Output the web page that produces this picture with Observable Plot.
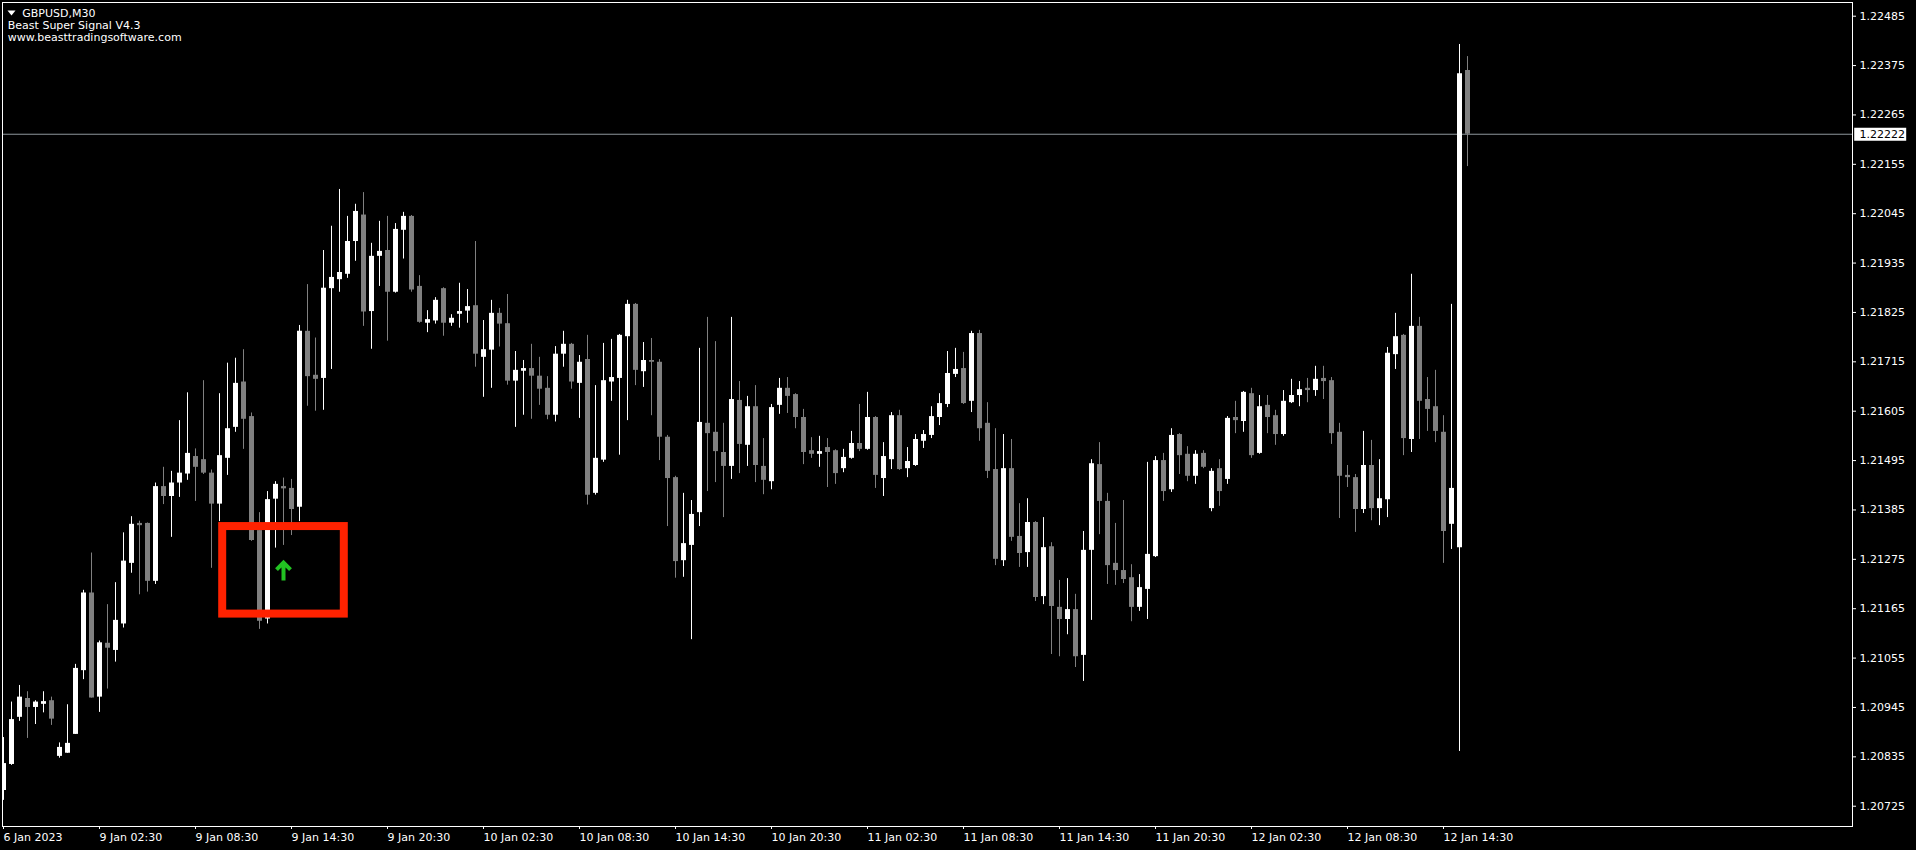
<!DOCTYPE html>
<html><head><meta charset="utf-8">
<script src="https://cdn.jsdelivr.net/npm/d3@7"></script>
<script src="https://cdn.jsdelivr.net/npm/@observablehq/plot@0.6"></script>
<style>html,body{margin:0;padding:0;background:#000;overflow:hidden}</style>
</head><body><div id="chart"></div>
<script>
// GBPUSD M30 bars, oldest first (one entry per bar)
const opens = [1.20760,1.20818,1.20923,1.20965,1.20945,1.20952,1.20960,1.20836,1.20843,1.20885,1.21027,1.21200,1.20968,1.21088,1.21072,1.21131,1.21266,1.21355,1.21355,1.21226,1.21437,1.21415,1.21445,1.21465,1.21504,1.21497,1.21467,1.21398,1.21500,1.21569,1.21670,1.21593,1.21339,1.21142,1.21409,1.21437,1.21433,1.21391,1.21783,1.21685,1.21678,1.21878,1.21898,1.21910,1.21983,1.22042,1.21827,1.21950,1.21963,1.21870,1.22008,1.22039,1.21883,1.21801,1.21806,1.21878,1.21801,1.21821,1.21828,1.21840,1.21725,1.21741,1.21823,1.21800,1.21672,1.21694,1.21700,1.21683,1.21656,1.21596,1.21732,1.21754,1.21667,1.21720,1.21422,1.21496,1.21670,1.21678,1.21771,1.21843,1.21693,1.21718,1.21714,1.21547,1.21457,1.21272,1.21306,1.21379,1.21578,1.21558,1.21513,1.21482,1.21629,1.21529,1.21615,1.21482,1.21448,1.21618,1.21656,1.21642,1.21591,1.21517,1.21509,1.21524,1.21517,1.21477,1.21500,1.21533,1.21520,1.21591,1.21455,1.21497,1.21595,1.21477,1.21484,1.21538,1.21551,1.21591,1.21620,1.21687,1.21700,1.21627,1.21778,1.21578,1.21475,1.21272,1.21477,1.21326,1.21290,1.21357,1.21192,1.21303,1.21168,1.21141,1.21163,1.21061,1.21295,1.21486,1.21404,1.21266,1.21250,1.21234,1.21168,1.21208,1.21281,1.21495,1.21430,1.21553,1.21509,1.21460,1.21511,1.21388,1.21477,1.21453,1.21591,1.21582,1.21644,1.21511,1.21618,1.21595,1.21553,1.21624,1.21640,1.21656,1.21651,1.21678,1.21673,1.21558,1.21462,1.21457,1.21386,1.21484,1.21388,1.21408,1.21731,1.21774,1.21542,1.21794,1.21631,1.21615,1.21558,1.21353,1.21301,1.22364];
const highs = [1.20878,1.20957,1.20994,1.20980,1.20960,1.20980,1.20968,1.20866,1.20951,1.21041,1.21206,1.21289,1.21093,1.21174,1.21223,1.21334,1.21370,1.21360,1.21356,1.21445,1.21480,1.21471,1.21584,1.21646,1.21521,1.21673,1.21474,1.21644,1.21712,1.21723,1.21742,1.21601,1.21379,1.21426,1.21448,1.21456,1.21453,1.21796,1.21887,1.21768,1.21963,1.22017,1.22099,1.22039,1.22066,1.22092,1.21979,1.22028,1.22039,1.22023,1.22048,1.22041,1.21907,1.21829,1.21858,1.21880,1.21820,1.21890,1.21876,1.21983,1.21807,1.21852,1.21834,1.21865,1.21738,1.21718,1.21754,1.21725,1.21682,1.21749,1.21783,1.21756,1.21729,1.21774,1.21662,1.21756,1.21765,1.21776,1.21852,1.21845,1.21758,1.21767,1.21720,1.21551,1.21460,1.21422,1.21406,1.21745,1.21814,1.21760,1.21578,1.21814,1.21671,1.21638,1.21662,1.21544,1.21620,1.21678,1.21680,1.21644,1.21609,1.21546,1.21549,1.21544,1.21519,1.21520,1.21560,1.21620,1.21647,1.21593,1.21535,1.21602,1.21607,1.21524,1.21553,1.21562,1.21615,1.21644,1.21738,1.21745,1.21736,1.21783,1.21785,1.21624,1.21566,1.21553,1.21542,1.21399,1.21410,1.21359,1.21368,1.21312,1.21228,1.21232,1.21197,1.21337,1.21497,1.21535,1.21422,1.21355,1.21406,1.21263,1.21241,1.21491,1.21504,1.21511,1.21566,1.21555,1.21526,1.21517,1.21517,1.21477,1.21497,1.21593,1.21627,1.21649,1.21656,1.21640,1.21640,1.21607,1.21651,1.21676,1.21671,1.21678,1.21705,1.21705,1.21680,1.21578,1.21484,1.21464,1.21560,1.21540,1.21497,1.21747,1.21823,1.21776,1.21910,1.21814,1.21680,1.21696,1.21595,1.21843,1.22422,1.22395];
const lows = [1.20738,1.20816,1.20914,1.20876,1.20907,1.20933,1.20905,1.20832,1.20843,1.20885,1.21007,1.20966,1.20934,1.20986,1.21046,1.21122,1.21244,1.21196,1.21202,1.21219,1.21397,1.21324,1.21413,1.21451,1.21404,1.21464,1.21255,1.21359,1.21462,1.21558,1.21520,1.21315,1.21119,1.21131,1.21300,1.21306,1.21328,1.21359,1.21616,1.21605,1.21607,1.21698,1.21870,1.21901,1.21939,1.21794,1.21743,1.21883,1.21761,1.21868,1.21944,1.21870,1.21801,1.21780,1.21799,1.21772,1.21794,1.21790,1.21801,1.21703,1.21636,1.21656,1.21748,1.21663,1.21569,1.21596,1.21587,1.21618,1.21586,1.21581,1.21703,1.21654,1.21589,1.21396,1.21418,1.21491,1.21627,1.21507,1.21584,1.21662,1.21658,1.21595,1.21495,1.21348,1.21233,1.21235,1.21096,1.21348,1.21426,1.21446,1.21368,1.21453,1.21466,1.21482,1.21446,1.21419,1.21430,1.21598,1.21600,1.21566,1.21486,1.21500,1.21480,1.21435,1.21442,1.21468,1.21498,1.21515,1.21518,1.21433,1.21415,1.21475,1.21473,1.21457,1.21482,1.21522,1.21544,1.21573,1.21613,1.21680,1.21620,1.21602,1.21538,1.21455,1.21261,1.21259,1.21315,1.21257,1.21257,1.21181,1.21174,1.21063,1.21058,1.21107,1.21034,1.21003,1.21139,1.21330,1.21219,1.21217,1.21221,1.21136,1.21159,1.21141,1.21279,1.21404,1.21424,1.21464,1.21448,1.21442,1.21477,1.21381,1.21393,1.21442,1.21555,1.21558,1.21500,1.21509,1.21555,1.21529,1.21549,1.21622,1.21615,1.21624,1.21638,1.21631,1.21531,1.21366,1.21435,1.21335,1.21377,1.21361,1.21350,1.21368,1.21698,1.21506,1.21513,1.21542,1.21560,1.21535,1.21266,1.21297,1.20847,1.22150];
const closes = [1.20820,1.20918,1.20968,1.20945,1.20957,1.20958,1.20919,1.20856,1.20865,1.21032,1.21200,1.20966,1.21089,1.21077,1.21139,1.21271,1.21353,1.21350,1.21226,1.21437,1.21415,1.21445,1.21467,1.21511,1.21480,1.21467,1.21398,1.21506,1.21566,1.21667,1.21587,1.21317,1.21137,1.21408,1.21442,1.21432,1.21386,1.21783,1.21682,1.21676,1.21879,1.21903,1.21914,1.21983,1.22050,1.21826,1.21950,1.21961,1.21870,1.22010,1.22039,1.21875,1.21803,1.21809,1.21852,1.21801,1.21812,1.21827,1.21838,1.21732,1.21742,1.21823,1.21799,1.21672,1.21696,1.21700,1.21683,1.21654,1.21596,1.21732,1.21754,1.21670,1.21714,1.21418,1.21500,1.21673,1.21680,1.21774,1.21843,1.21696,1.21718,1.21714,1.21547,1.21455,1.21270,1.21310,1.21375,1.21580,1.21555,1.21515,1.21482,1.21631,1.21531,1.21615,1.21484,1.21451,1.21613,1.21656,1.21638,1.21591,1.21513,1.21509,1.21515,1.21513,1.21466,1.21502,1.21533,1.21520,1.21591,1.21462,1.21504,1.21595,1.21475,1.21493,1.21542,1.21553,1.21593,1.21622,1.21689,1.21698,1.21622,1.21778,1.21566,1.21471,1.21275,1.21477,1.21324,1.21288,1.21357,1.21190,1.21301,1.21170,1.21141,1.21163,1.21058,1.21295,1.21488,1.21404,1.21261,1.21250,1.21230,1.21168,1.21212,1.21286,1.21495,1.21426,1.21551,1.21506,1.21460,1.21509,1.21480,1.21471,1.21426,1.21589,1.21584,1.21647,1.21506,1.21615,1.21591,1.21553,1.21627,1.21640,1.21653,1.21651,1.21676,1.21671,1.21555,1.21460,1.21457,1.21386,1.21484,1.21388,1.21410,1.21734,1.21771,1.21544,1.21794,1.21627,1.21609,1.21560,1.21337,1.21433,1.22357,1.22222];

// time-axis labels (every 12 bars) and price-axis labels
const timeTickBars = [0,12,24,36,48,60,72,84,96,108,120,132,144,156,168,180];
const timeLabels = ["6 Jan 2023","9 Jan 02:30","9 Jan 08:30","9 Jan 14:30","9 Jan 20:30","10 Jan 02:30","10 Jan 08:30","10 Jan 14:30","10 Jan 20:30","11 Jan 02:30","11 Jan 08:30","11 Jan 14:30","11 Jan 20:30","12 Jan 02:30","12 Jan 08:30","12 Jan 14:30"];
const priceTicks = [1.20725,1.20835,1.20945,1.21055,1.21165,1.21275,1.21385,1.21495,1.21605,1.21715,1.21825,1.21935,1.22045,1.22155,1.22265,1.22375,1.22485];
const lastPrice = 1.22222;

// indicator signal (buy arrow) and highlight box
const signals = [{bar: 35, price: 1.21270}];
const highlight = [{barFrom: 27.4, barTo: 42.6, priceLow: 1.21153, priceHigh: 1.21348}];
const headerLines = ["GBPUSD,M30", "Beast Super Signal V4.3", "www.beasttradingsoftware.com"];

const bars = opens.map((o, i) => ({i, open: o, high: highs[i], low: lows[i], close: closes[i]}));
const colorOf = d => d.close >= d.open ? "#ffffff" : "#808080";

const arrowShape = {
  draw(ctx, l) {
    ctx.moveTo(0, 0); ctx.lineTo(0, -l + 1);
    ctx.moveTo(-7, -l + 8); ctx.lineTo(0, -l + 1); ctx.lineTo(7, -l + 8);
  }
};
const triShape = {
  draw(ctx) { ctx.moveTo(-4, -2.4); ctx.lineTo(4, -2.4); ctx.lineTo(0, 2.4); ctx.closePath(); }
};

const chart = Plot.plot({
  width: 1916, height: 850,
  marginLeft: 2, marginRight: 64, marginTop: 2, marginBottom: 24,
  x: {type: "linear", domain: [-0.125, 231.125]},
  y: {type: "linear", domain: [1.206798, 1.225155]},
  style: {background: "#000", color: "#fff", fontFamily: "'DejaVu Sans', sans-serif", fontSize: "11px"},
  marks: [
    Plot.ruleY([lastPrice], {stroke: "#8f979c", strokeWidth: 1}),
    Plot.ruleX(bars, {x: "i", y1: "low", y2: "high", stroke: colorOf, clip: true}),
    Plot.ruleX(bars, {x: "i", y1: "open", y2: "close", stroke: colorOf, strokeWidth: 5, clip: true}),
    Plot.rect(highlight, {x1: "barFrom", x2: "barTo", y1: "priceLow", y2: "priceHigh", fill: "none", stroke: "#ff2200", strokeWidth: 8}),
    Plot.vector(signals, {x: "bar", y: "price", length: 19, anchor: "end", shape: arrowShape, stroke: "#22c322", strokeWidth: 4, strokeLinejoin: "miter", strokeLinecap: "butt"}),
    Plot.frame({stroke: "#ffffff"}),
    Plot.axisY(priceTicks, {anchor: "right", tickSize: 3, tickPadding: 4, tickFormat: d => d.toFixed(5), label: null}),
    Plot.ruleY([lastPrice], {x1: 231.4, x2: 237.9, stroke: "#ffffff", strokeWidth: 13, clip: false}),
    Plot.text([lastPrice], {y: d => d, frameAnchor: "right", dx: 7, textAnchor: "start", text: d => d.toFixed(5), fill: "#000"}),
    Plot.axisX(timeTickBars, {anchor: "bottom", tickSize: 3, tickPadding: 4, tickFormat: d => timeLabels[timeTickBars.indexOf(d)], textAnchor: "start", label: null}),
    Plot.vector([0], {frameAnchor: "top-left", dx: 9, dy: 10.5, shape: triShape, fill: "#ffffff", stroke: "none", anchor: "start"}),
    Plot.text([headerLines[0]], {frameAnchor: "top-left", dx: 19.7, dy: 14, lineAnchor: "bottom", textAnchor: "start", fill: "#ffffff"}),
    Plot.text([headerLines[1]], {frameAnchor: "top-left", dx: 5.3, dy: 26.7, lineAnchor: "bottom", textAnchor: "start", fill: "#ffffff"}),
    Plot.text([headerLines[2]], {frameAnchor: "top-left", dx: 5.3, dy: 38.7, lineAnchor: "bottom", textAnchor: "start", fill: "#ffffff"})
  ]
});
document.getElementById("chart").appendChild(chart);
</script>
</body></html>
